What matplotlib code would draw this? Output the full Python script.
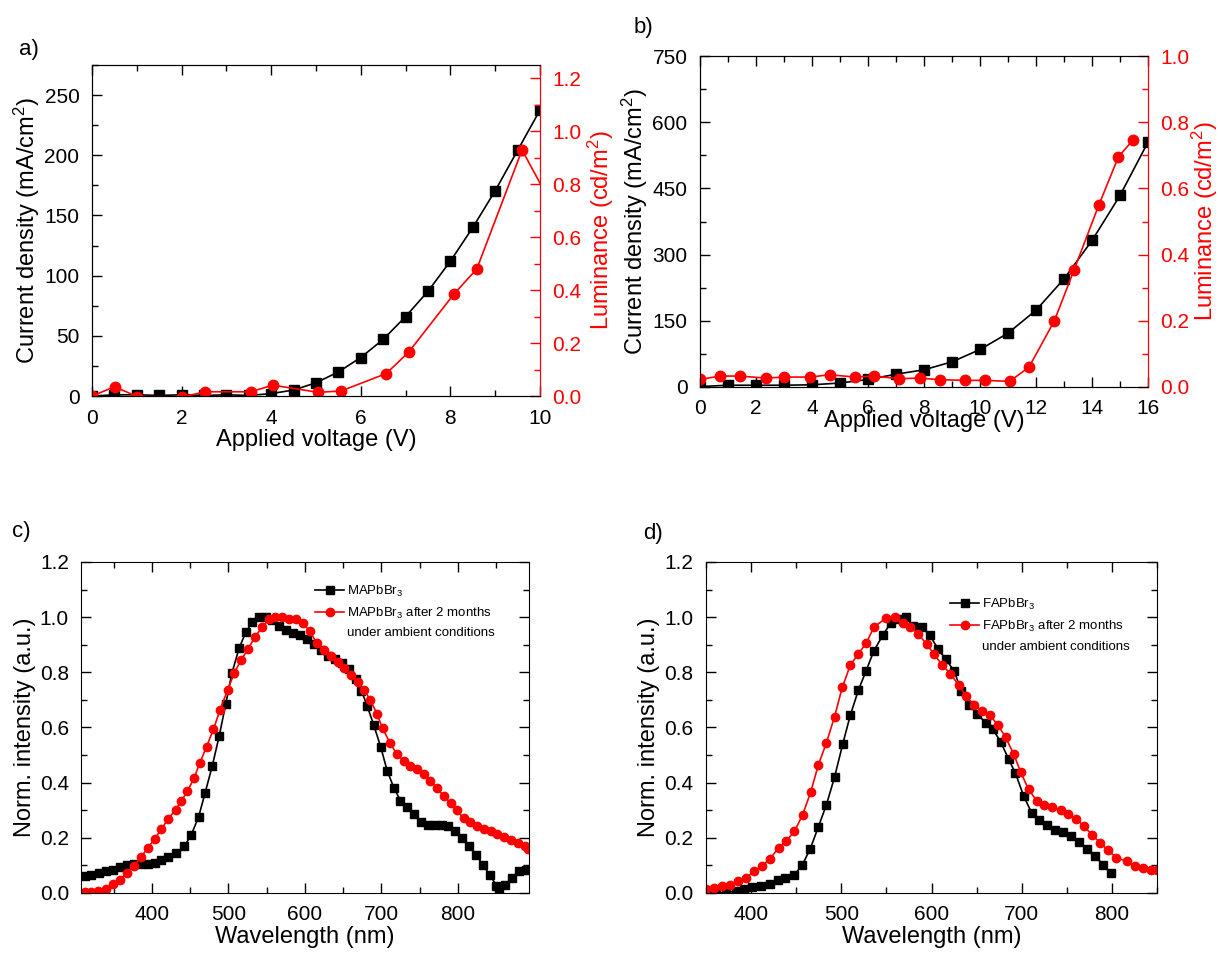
import matplotlib
matplotlib.use("Agg")
import matplotlib.pyplot as plt
from matplotlib.ticker import MultipleLocator
from matplotlib.lines import Line2D

plt.rcParams['font.family'] = ['Liberation Sans', 'DejaVu Sans']
plt.rcParams['mathtext.fontset'] = 'custom'
plt.rcParams['mathtext.rm'] = 'Liberation Sans'
plt.rcParams['mathtext.it'] = 'Liberation Sans'

# ---- panel a data ----
a_volt = [0, 0.5, 1.0, 1.5, 2.0, 2.5, 3.0, 3.5, 4.0, 4.5, 5.0, 5.5, 6.0, 6.5, 7.0,
          7.5, 8.0, 8.5, 9.0, 9.5, 10.0]
a_curr = [0, 1, 1, 0.5, 1, 0.5, 1, 0.5, 2, 5, 11, 20, 32, 47, 66, 87, 112, 140,
          170.5, 204, 237.5]
a_lvolt = [0, 0.505, 1.01, 2.02, 2.53, 3.54, 4.04, 5.05, 5.56, 6.57, 7.07, 8.08,
           8.59, 9.6, 10.6]
a_lum = [0.0, 0.035, -0.002, -0.003, 0.016, 0.016, 0.041, 0.014, 0.019, 0.085,
         0.166, 0.385, 0.48, 0.929, 0.617]

# ---- panel b data ----
b_volt = [0, 1, 2, 3, 4, 5, 6, 7, 8, 9, 10, 11, 12, 13, 14, 15, 16]
b_curr = [1, 4, 4, 4, 5, 9, 17, 29, 39, 57, 85, 122, 174, 245, 332, 434, 555]
b_lvolt = [0, 0.72, 1.41, 2.35, 3.01, 3.93, 4.63, 5.53, 6.22, 7.11, 7.84, 8.56,
           9.46, 10.16, 11.06, 11.75, 12.65, 13.35, 14.24, 14.94, 15.45]
b_lum = [0.023, 0.033, 0.033, 0.027, 0.030, 0.030, 0.037, 0.030, 0.033, 0.025,
         0.027, 0.022, 0.020, 0.020, 0.017, 0.060, 0.199, 0.352, 0.549, 0.695, 0.745]

# ---- panel c data ----
c_wl = [312.5, 321, 330.5, 340, 349, 358, 367, 376.5, 385.5, 394.5, 403.5, 412.5,
        421.5, 431.5, 442.5, 451.5, 461, 469.5, 479, 488, 496.5, 504.5, 514, 523,
        531.5, 540, 549, 557.5, 566.5, 575.5, 584.5, 594, 603, 612.5, 621.5, 630.5,
        639.5, 649, 658, 666.5, 674, 681.5, 690, 699, 707.5, 716.5, 725, 734, 743,
        751.5, 760.5, 769.5, 779, 787.5, 796.5, 805.5, 814.5, 823.5, 832.5, 841.5,
        850.5, 854, 861.5, 870.5, 879.5, 888.5]
c_fresh = [0.06, 0.066, 0.072, 0.078, 0.084, 0.093, 0.10, 0.106, 0.106, 0.106, 0.109,
           0.12, 0.129, 0.145, 0.169, 0.211, 0.275, 0.362, 0.461, 0.569, 0.684, 0.796,
           0.887, 0.947, 0.983, 1.0, 1.0, 0.99, 0.967, 0.953, 0.941, 0.935, 0.92, 0.902,
           0.88, 0.86, 0.847, 0.835, 0.811, 0.774, 0.733, 0.678, 0.609, 0.531, 0.444,
           0.38, 0.335, 0.311, 0.286, 0.259, 0.247, 0.245, 0.245, 0.241, 0.226, 0.199,
           0.169, 0.139, 0.103, 0.066, 0.027, 0.006, 0.03, 0.054, 0.078, 0.082]
c_wl_aged = [312.5, 321, 330, 340, 349, 358, 367, 376.5, 385.5, 394.5, 403.5, 412.5,
             421.5, 431, 438, 446.5, 455, 463, 471.5, 480.5, 489, 499, 508, 516.5,
             525.5, 535, 544, 553, 561.5, 570.5, 579.5, 588, 597.5, 606.5, 615.5,
             624.5, 634, 643, 651.5, 660.5, 669.5, 677.5, 685.5, 694.5, 701.5, 711.5,
             720, 729, 737.5, 746.5, 755.5, 764, 772.5, 781.5, 790.5, 799, 807.5,
             816.5, 825.5, 834, 843, 851.5, 860.5, 869.5, 878.5, 887.5, 891.5]
c_aged = [0.004, 0.004, 0.006, 0.014, 0.033, 0.048, 0.072, 0.097, 0.129, 0.163, 0.195,
          0.232, 0.269, 0.302, 0.332, 0.368, 0.416, 0.473, 0.531, 0.593, 0.663, 0.736,
          0.799, 0.844, 0.883, 0.929, 0.963, 0.992, 1.0, 1.0, 0.995, 0.992, 0.977,
          0.95, 0.905, 0.88, 0.859, 0.838, 0.814, 0.79, 0.766, 0.736, 0.7, 0.648,
          0.597, 0.543, 0.504, 0.479, 0.462, 0.449, 0.431, 0.407, 0.38, 0.352, 0.326,
          0.299, 0.271, 0.257, 0.244, 0.233, 0.223, 0.214, 0.203, 0.193, 0.181, 0.169,
          0.16]

# ---- panel d data ----
d_wl = [352.5, 361, 372, 383, 392, 401, 411, 420.5, 429.5, 438, 448, 456.5, 465.5,
        474.5, 483.5, 492.5, 501.5, 510, 519, 527.5, 536, 546, 555, 562, 571.5, 580,
        589, 598, 607.5, 616, 625, 633, 642, 650.5, 660, 668, 676.5, 685.5, 693, 702,
        711, 719.5, 728.5, 737, 746, 754.5, 763.5, 772.5, 781, 790, 798.5]
d_fresh = [0.0, 0.0, 0.002, 0.006, 0.014, 0.022, 0.024, 0.034, 0.048, 0.054, 0.066,
           0.1, 0.16, 0.239, 0.32, 0.42, 0.539, 0.645, 0.736, 0.806, 0.877, 0.935,
           0.98, 0.992, 1.0, 0.967, 0.965, 0.935, 0.883, 0.847, 0.805, 0.733, 0.682,
           0.648, 0.618, 0.593, 0.549, 0.485, 0.434, 0.353, 0.29, 0.263, 0.247, 0.229,
           0.221, 0.205, 0.183, 0.159, 0.135, 0.103, 0.072]
d_wl_aged = [350.5, 359, 368, 377, 385.5, 394.5, 403, 412, 420.5, 430.5, 439, 448,
             457, 466, 474.5, 483.5, 492.5, 501, 510, 519, 527.5, 536, 550, 559, 568,
             576.5, 585.5, 594.5, 603, 612, 621, 630, 638, 647, 656, 664.5, 673.5, 682,
             691, 699, 707.5, 716.5, 725, 734, 743, 751.5, 760.5, 769, 778, 787, 796,
             805, 817, 826, 834, 843, 849.5]
d_aged = [0.014, 0.018, 0.024, 0.03, 0.042, 0.054, 0.078, 0.097, 0.123, 0.163, 0.189,
          0.223, 0.283, 0.365, 0.464, 0.545, 0.639, 0.745, 0.826, 0.868, 0.905, 0.963,
          0.998, 1.0, 0.977, 0.965, 0.938, 0.902, 0.865, 0.826, 0.794, 0.754, 0.714,
          0.682, 0.661, 0.645, 0.609, 0.565, 0.504, 0.437, 0.376, 0.335, 0.32, 0.311,
          0.302, 0.287, 0.269, 0.241, 0.211, 0.181, 0.154, 0.127, 0.115, 0.097, 0.09,
          0.084, 0.082]

RED = '#ff0000'
TICK_FS = 15
LAB_FS = 17

fig = plt.figure(figsize=(12.2, 9.61), dpi=100)


def style_ticks(ax, color='black', **kw):
    ax.tick_params(which='both', direction='in', colors=color, labelsize=TICK_FS, **kw)
    ax.tick_params(which='major', length=7, width=1)
    ax.tick_params(which='minor', length=4, width=1)
    ax.tick_params(axis='x', pad=9)
    ax.tick_params(axis='y', pad=9)


def iv_panel(rect, volt, curr, lvolt, lum, xlim, ylim, ylim2, ymaj, ymin, label, lpos):
    ax = fig.add_axes(rect)
    ax.plot(volt, curr, color='black', marker='s', ms=6.5, lw=1.2)
    ax.set_xlim(*xlim)
    ax.set_ylim(*ylim)
    ax.xaxis.set_major_locator(MultipleLocator(2))
    ax.xaxis.set_minor_locator(MultipleLocator(1))
    ax.yaxis.set_major_locator(MultipleLocator(ymaj))
    ax.yaxis.set_minor_locator(MultipleLocator(ymin))
    style_ticks(ax, top=True, right=False)
    ax.set_xlabel('Applied voltage (V)', fontsize=LAB_FS, labelpad=1)
    ax.set_ylabel('Current density (mA/cm$^2$)', fontsize=LAB_FS, labelpad=2)
    ax2 = ax.twinx()
    ax2.plot(lvolt, lum, color=RED, marker='o', ms=7.5, lw=1.2)
    ax2.set_ylim(*ylim2)
    ax2.yaxis.set_major_locator(MultipleLocator(0.2))
    ax2.yaxis.set_minor_locator(MultipleLocator(0.1))
    ax2.yaxis.set_major_formatter(plt.FormatStrFormatter('%.1f'))
    style_ticks(ax2, color=RED)
    ax2.spines['right'].set_color(RED)
    ax2.set_ylabel('Luminance (cd/m$^2$)', fontsize=LAB_FS, color=RED, labelpad=3)
    fig.text(lpos[0], lpos[1], label, fontsize=16, ha='left', va='center')
    return ax, ax2


axa, axa2 = iv_panel([0.0754, 0.5879, 0.3672, 0.3445], a_volt, a_curr, a_lvolt, a_lum,
                     (0, 10), (0, 275), (0, 1.25), 50, 25, 'a)', (19 / 1220, 1 - 49 / 961))
axb, axb2 = iv_panel([0.5738, 0.5973, 0.3672, 0.3444], b_volt, b_curr, b_lvolt, b_lum,
                     (0, 16), (0, 750), (0, 1.0), 150, 75, 'b)', (634 / 1220, 1 - 27 / 961))
# in the original figure panel b's x label sits over its tick labels
axb.xaxis.labelpad = -6
axb2.yaxis.labelpad = 0


def pl_panel(rect, wl, fresh, wl2, aged, xlim, name, label, lpos, leg_anchor):
    ax = fig.add_axes(rect)
    ax.plot(wl, fresh, color='black', marker='s', ms=5.5, lw=1.2, label=name)
    ax.plot(wl2, aged, color=RED, marker='o', ms=6, lw=1.2,
            label=name + ' after 2 months')
    ax.set_xlim(*xlim)
    ax.set_ylim(0, 1.2)
    ax.xaxis.set_major_locator(MultipleLocator(100))
    ax.xaxis.set_minor_locator(MultipleLocator(50))
    ax.yaxis.set_major_locator(MultipleLocator(0.2))
    ax.yaxis.set_minor_locator(MultipleLocator(0.1))
    ax.yaxis.set_major_formatter(plt.FormatStrFormatter('%.1f'))
    style_ticks(ax, top=True, right=True)
    ax.set_xlabel('Wavelength (nm)', fontsize=LAB_FS, labelpad=1)
    ax.set_ylabel('Norm. intensity (a.u.)', fontsize=LAB_FS, labelpad=3)
    handles, labels = ax.get_legend_handles_labels()
    handles.append(Line2D([], [], linestyle='none'))
    labels.append('under ambient conditions')
    ax.legend(handles, labels, loc='upper left', bbox_to_anchor=leg_anchor,
              frameon=False, fontsize=9.5, handlelength=2.2, handletextpad=0.2,
              labelspacing=0.5, borderaxespad=0)
    fig.text(lpos[0], lpos[1], label, fontsize=16, ha='left', va='center')
    return ax


pl_panel([0.0668, 0.0708, 0.3668, 0.3444], c_wl, c_fresh, c_wl_aged, c_aged,
         (308, 893), 'MAPbBr$_3$', 'c)', (12 / 1220, 1 - 531 / 961), (0.51, 0.95))
pl_panel([0.5787, 0.0708, 0.3697, 0.3444], d_wl, d_fresh, d_wl_aged, d_aged,
         (350, 850), 'FAPbBr$_3$', 'd)', (643 / 1220, 1 - 533 / 961), (0.53, 0.91))

fig.savefig('out.png', dpi=100)
